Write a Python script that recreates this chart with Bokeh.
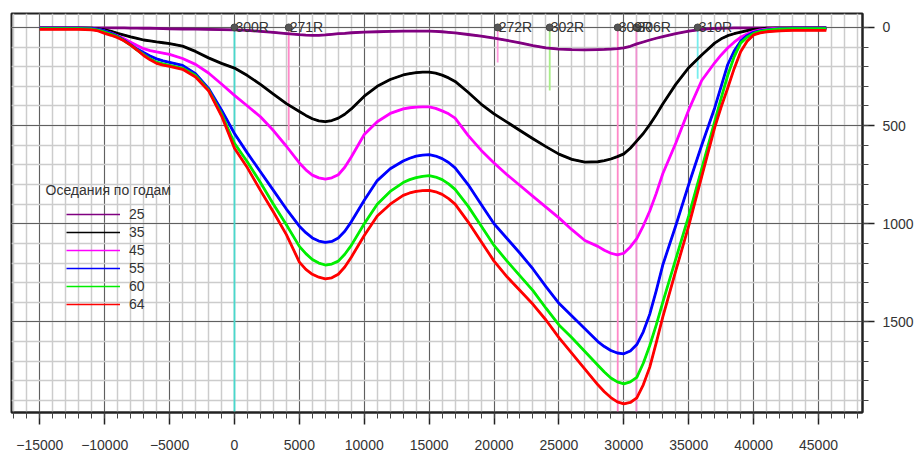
from bokeh.plotting import figure
from bokeh.models import Range1d, SingleIntervalTicker, Legend, LegendItem, Label
from bokeh.embed import file_html
from bokeh.resources import INLINE
from bokeh.core.properties import value

FONT = "Liberation Sans"

# ---------------- data ----------------
x = [-15000, -14000, -13000, -12000, -11000,
     -10500, -10000, -9500, -9000, -8500, -8000, -7500, -7000, -6500, -6000, -5500, -5000,
     -4000, -3000, -2000, -1000, 0, 1000, 2000, 3000, 4000, 5000,
     5500, 6000, 6500, 7000, 7500, 8000, 8500, 9000,
     10000, 11000, 12000, 13000,
     13500, 14000, 14500, 15000, 15500, 16000, 16500, 17000,
     18000, 19000, 20000, 21000, 22000, 23000, 24000, 25000, 26000, 27000, 28000,
     28500, 29000, 29500, 30000, 30500, 31000, 31500, 32000, 32500, 33000,
     34000, 35000, 36000, 37000,
     37500, 38000, 38500, 39000, 39500, 40000, 40500, 41000,
     42000, 43000, 44000, 45000, 45600]

s25 = [2, 2, 2, 2, 2,
       2, 2, 2, 2, 2, 3, 3, 4, 4, 5, 6, 7,
       8, 9, 10, 11, 12, 15, 20, 25, 31, 37,
       39, 40, 40, 38, 35, 32, 30, 27,
       24, 22, 20, 19,
       19, 19, 19, 19, 20, 22, 25, 28,
       36, 44, 54, 66, 78, 92, 104, 110, 113, 114, 113,
       112, 110, 108, 104, 96, 84, 74, 64, 55, 47,
       32, 19, 10, 5,
       4, 3, 2, 2, 2, 2, 2, 2,
       2, 2, 2, 2, 2]
s35 = [2, 2, 2, 2, 4,
       7, 12, 20, 30, 39, 48, 56, 64, 69, 74, 78, 82,
       95, 122, 155, 183, 207, 245, 290, 340, 388, 428,
       448, 465, 476, 480, 474, 462, 442, 415,
       350, 300, 265, 242,
       235, 230, 228, 228, 233, 243, 257, 275,
       330, 390, 440, 482, 525, 567, 607, 645, 672, 686, 684,
       678, 670, 658, 644, 615, 578, 540, 495, 445, 390,
       290, 205, 140, 80,
       58, 42, 32, 24, 16, 10, 7, 4,
       2, 2, 2, 2, 2]
s45 = [3, 3, 3, 3, 5,
       10, 18, 29, 42, 58, 75, 92, 108, 118, 125, 131, 137,
       158, 188, 232, 288, 346, 400, 455, 525, 605, 690,
       725, 752, 766, 772, 766, 750, 712, 660,
       545, 480, 438, 415,
       409, 406, 405, 405, 412, 425, 440, 462,
       550, 625, 690, 750, 805, 860, 915, 970, 1030, 1085, 1115,
       1135, 1150, 1158, 1150, 1118, 1075, 1010, 935, 845, 745,
       590, 420, 270, 180,
       140, 105, 75, 50, 33, 20, 13, 8,
       4, 3, 3, 3, 3]
s55 = [3, 3, 3, 3, 5,
       10, 18, 30, 45, 65, 88, 110, 128, 145, 160, 170, 178,
       193, 235, 310, 420, 540, 640, 735, 830, 925, 1012,
       1045, 1072, 1088, 1095, 1090, 1072, 1038, 990,
       880, 780, 720, 680,
       666, 655, 650, 648, 655, 668, 688, 715,
       800, 900, 1000, 1075, 1150, 1230, 1320, 1405, 1470, 1535, 1600,
       1625, 1645, 1658, 1662, 1648, 1615, 1550, 1460, 1340, 1210,
       1010, 800, 600, 410,
       300, 190, 120, 70, 42, 25, 17, 12,
       6, 4, 4, 4, 4]
s60 = [6, 6, 6, 6, 8,
       14, 24, 35, 48, 68, 90, 115, 138, 160, 177, 186, 193,
       208, 245, 318, 440, 590, 685, 790, 900, 1005, 1115,
       1152, 1182, 1200, 1210, 1205, 1190, 1155, 1110,
       1000, 900, 835, 790,
       775, 765, 758, 755, 762, 775, 797, 825,
       910, 1010, 1110, 1190, 1265, 1340, 1430, 1515, 1580, 1650, 1720,
       1755, 1785, 1805, 1815, 1805, 1782, 1710, 1620, 1515, 1400,
       1180, 960, 720, 480,
       360, 245, 150, 80, 50, 30, 20, 14,
       8, 6, 6, 6, 6]
s64 = [10, 10, 10, 10, 12,
       18, 30, 40, 52, 68, 90, 115, 143, 165, 183, 192, 198,
       213, 252, 322, 450, 615, 715, 830, 940, 1055, 1195,
       1232, 1257, 1272, 1280, 1275, 1257, 1220, 1170,
       1060, 960, 900, 855,
       843, 835, 831, 830, 837, 850, 872, 900,
       990, 1090, 1190, 1270, 1340, 1410, 1490, 1580, 1660, 1740, 1820,
       1855, 1885, 1907, 1917, 1910, 1887, 1820, 1730, 1605, 1475,
       1240, 1010, 760, 510,
       405, 310, 210, 124, 70, 38, 28, 22,
       18, 15, 15, 15, 15]

series_names = ["25", "35", "45", "55", "60", "64"]
series_values = [s25, s35, s45, s55, s60, s64]
series_colors = ["#800080", "#000000", "#ff00ff", "#0000ff", "#00ee00", "#ff0000"]

well_names = ["300R", "271R", "272R", "302R", "309R", "306R", "310R"]
well_x = [0, 4180, 20280, 24290, 29530, 30970, 35690]
well_depth = [2100, 575, 178, 321, 2100, 2100, 261]
well_colors = ["#48d8cc", "#ff88c8", "#ff99dd", "#a8ee88", "#ff88c8", "#f090d0", "#77eeee"]

legend_title = "Оседания по годам"

# ---------------- figure ----------------
p = figure(width=916, height=452, output_backend="svg", toolbar_location=None,
           x_range=Range1d(-17180, 48390), y_range=Range1d(1961, -71),
           y_axis_location="right",
           min_border_left=11, min_border_top=13, min_border_right=54, min_border_bottom=40)
p.background_fill_color = "white"
p.border_fill_color = "white"
p.outline_line_color = "#222222"
p.outline_line_width = 2

xt = SingleIntervalTicker(interval=5000, num_minor_ticks=5)
yt = SingleIntervalTicker(interval=500, num_minor_ticks=5)
p.xaxis.ticker = xt
p.yaxis.ticker = yt
p.xgrid.ticker = xt
p.ygrid.ticker = yt

for ax, standoff in ((p.xaxis, 15), (p.yaxis, 8)):
    ax.axis_line_color = "#222222"
    ax.axis_line_width = 2
    ax.major_tick_out = 12
    ax.major_tick_in = 0
    ax.minor_tick_out = 6
    ax.minor_tick_in = 0
    ax.major_tick_line_color = "#222222"
    ax.major_tick_line_width = 1.5
    ax.minor_tick_line_color = "#444444"
    ax.minor_tick_line_width = 1
    ax.major_label_text_font = FONT
    ax.major_label_text_font_size = "14px"
    ax.major_label_text_color = "#333333"
    ax.major_label_standoff = standoff

p.grid.grid_line_color = "#606060"
p.grid.grid_line_width = 1
p.grid.minor_grid_line_color = "#cccccc"
p.grid.minor_grid_line_width = 1.5

# wells (vertical lines)
p.segment(x0=well_x, y0=[0] * len(well_x), x1=well_x, y1=well_depth,
          line_color=well_colors, line_width=1.8)

# subsidence curves (thin copy underneath is used for the legend sample)
items = []
for name, vals, col in zip(series_names, series_values, series_colors):
    thin = p.line(x=x, y=vals, line_color=col, line_width=1.6)
    p.line(x=x, y=vals, line_color=col, line_width=2.8, line_join="round")
    items.append(LegendItem(label=name, renderers=[thin]))

# well heads + labels
p.scatter(x=well_x, y=[0] * len(well_x), size=7, fill_color="#555555", line_color="#444444")
p.text(x=well_x, y=[0] * len(well_x), text=well_names, text_font=value(FONT),
       text_font_size="14px", text_color="#333333", text_baseline="alphabetic",
       x_offset=1)

leg = Legend(items=items, location=(55, 99), orientation="vertical",
             background_fill_alpha=0, border_line_alpha=0, padding=0, margin=0,
             spacing=0, label_height=18, glyph_height=18, glyph_width=54,
             label_standoff=9, label_text_font=FONT, label_text_font_size="14px",
             label_text_color="#333333")
p.add_layout(leg)

p.add_layout(Label(x=-14560, y=830, text=legend_title, text_font=FONT,
                   text_font_size="14px", text_color="#333333", text_baseline="middle"))

open("out.html", "w").write(file_html(p, INLINE))
